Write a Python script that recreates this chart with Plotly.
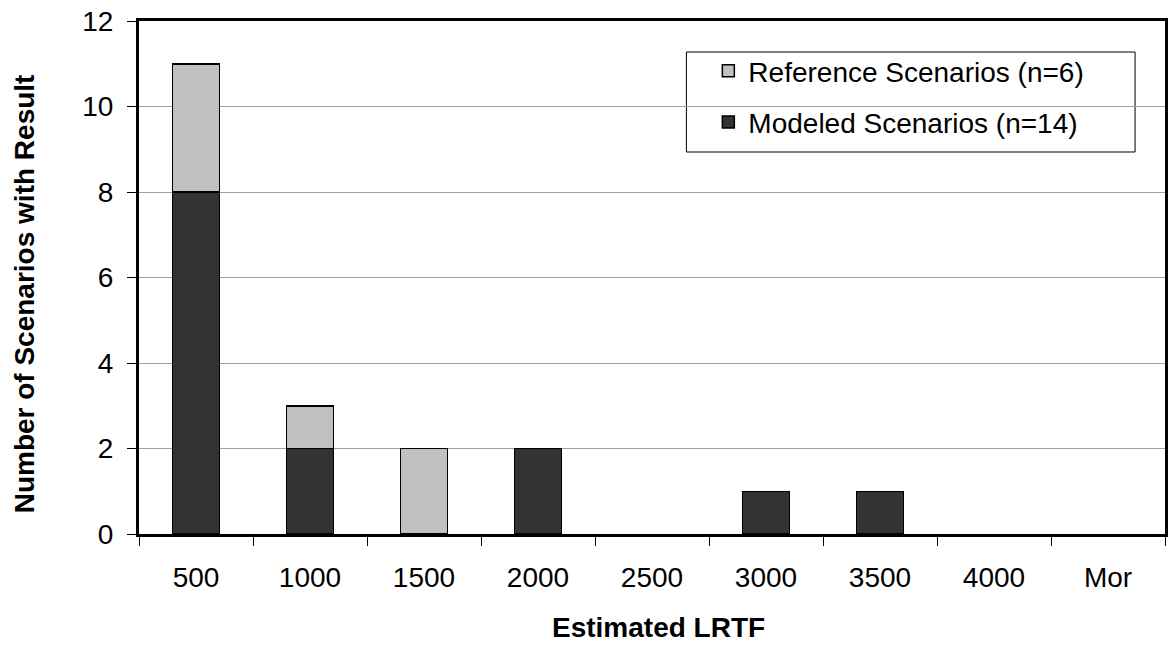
import plotly.graph_objects as go

# histogram bins and counts
bins = ["500", "1000", "1500", "2000", "2500", "3000", "3500", "4000", "Mor"]
modeled = [8, 2, 0, 2, 0, 1, 1, 0, 0]
reference = [3, 1, 2, 0, 0, 0, 0, 0, 0]
y_ticks = [0, 2, 4, 6, 8, 10, 12]

FONT = "Arial, Liberation Sans, sans-serif"
W, H = 1170, 646
L, R, T, B = 139, 2, 21, 112

# empty bins draw nothing (avoid a flat outlined bar on the axis)
def hide_zero(vals):
    return [v if v else None for v in vals]

fig = go.Figure()
fig.add_trace(go.Bar(
    x=bins, y=hide_zero(modeled), name="Modeled Scenarios (n=14)",
    legendgroup="m", legendrank=2,
    marker=dict(color="#333333", line=dict(color="black", width=1.5))
))
fig.add_trace(go.Bar(
    x=bins, y=hide_zero(reference), name="Reference Scenarios (n=6)",
    legendgroup="r", legendrank=1,
    marker=dict(color="#c0c0c0", line=dict(color="black", width=1.5))
))

pw, ph = W - L - R, H - T - B
def px_x(x): return (x - L) / pw
def px_y(y): return (H - B - y) / ph

fig.update_layout(
    barmode="stack", bargap=0.59,
    width=W, height=H,
    margin=dict(l=L, r=R, t=T, b=B),
    paper_bgcolor="white", plot_bgcolor="white",
    font=dict(family=FONT, size=28, color="black"),
    legend=dict(
        x=px_x(710), y=px_y(46), xanchor="left", yanchor="top",
        traceorder="grouped", tracegroupgap=12,
        bgcolor="rgba(0,0,0,0)", borderwidth=0,
        font=dict(size=28), itemwidth=30,
    ),
    shapes=[dict(
        type="rect", xref="paper", yref="paper", layer="below",
        x0=px_x(688), x1=px_x(1138), y0=px_y(152), y1=px_y(52),
        line=dict(color="black", width=1), fillcolor="white",
    )],
    annotations=[
        dict(text="<b>Number of Scenarios with Result</b>", xref="paper", yref="paper",
             x=px_x(24), y=px_y(294), textangle=-90, showarrow=False,
             font=dict(size=28), xanchor="center", yanchor="middle"),
        dict(text="<b>Estimated LRTF</b>", xref="paper", yref="paper",
             x=px_x(660), y=px_y(628), showarrow=False,
             font=dict(size=28), xanchor="center", yanchor="middle"),
    ],
)

fig.update_xaxes(
    type="category", tickson="boundaries",
    showline=True, linecolor="black", linewidth=3, mirror=True,
    ticks="outside", ticklen=9, tickcolor="black", tickwidth=1,
    ticklabelstandoff=16,
)
fig.update_yaxes(
    range=[0, 12], tickvals=y_ticks,
    showline=True, linecolor="black", linewidth=3, mirror=True,
    ticks="outside", ticklen=9, tickcolor="black", tickwidth=1,
    ticklabelstandoff=8,
    showgrid=True, gridcolor="#a0a0a0", gridwidth=1, zeroline=False,
)

fig.write_html("out.html", config={"displayModeBar": False},
               post_script="document.body.style.margin='0px';")
